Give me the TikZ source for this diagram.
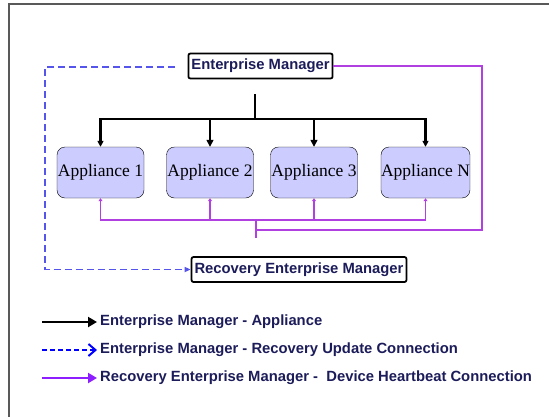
\documentclass[tikz,border=0pt]{standalone}
\usepackage{fontspec}
\setmainfont{Liberation Serif}
\newfontfamily\arialfont{Liberation Sans}
\usetikzlibrary{arrows.meta,positioning}
\definecolor{appfill}{RGB}{204,204,255}
\definecolor{hbline}{RGB}{176,64,224}
\definecolor{recline}{RGB}{85,85,235}
\definecolor{legpurple}{RGB}{140,30,255}
\definecolor{navytext}{RGB}{28,28,90}

\begin{document}
\begin{tikzpicture}[x=1pt, y=-1pt,
    mgr/.style={draw, line width=1.8pt, rounded corners=2pt, fill=white, inner xsep=3pt, minimum height=25pt, font=\arialfont\bfseries\fontsize{14.8}{16}\selectfont, text=navytext},
    appl/.style={draw, rounded corners=8pt, fill=appfill, minimum width=87pt, minimum height=51pt, inner sep=0pt, font=\fontsize{17.5}{19}\selectfont},
    tree/.style={-{Triangle[length=7pt, width=7pt]}, line width=1.4pt},
    treebig/.style={tree, line width=2.4pt, -{Triangle[length=6pt, width=6pt]}},
    hb/.style={hbline, line width=1.6pt},
    rec/.style={recline, line width=1.6pt, dash pattern=on 7pt off 4pt},
    legtext/.style={anchor=west, inner sep=3pt, text=navytext, font=\arialfont\bfseries\fontsize{14.8}{16}\selectfont}
]
\useasboundingbox (0,0) rectangle (549,416);
% frame
\draw[gray!70!black, line width=1.3pt] (9,420) -- (9,4) -- (560,4);

% managers
\node[mgr] (em) at (260.5,66) {Enterprise Manager};
\node[mgr] (rem) at (299,269.5) {Recovery Enterprise Manager};

% appliances
\node[appl] (app1) at (100.5,172.5) {Appliance 1};
\node[appl] (app2) at (210,172.5) {Appliance 2};
\node[appl] (app3) at (314,172.5) {Appliance 3};
\node[appl] (appn) at (425.5,172.5) {Appliance N};

% enterprise manager - appliance
\coordinate (emstem) at (255,94);
\coordinate (split) at (255,119);
\draw[line width=2.2pt] (emstem) -- (split);
\draw[treebig] (split) -| (app1.north);
\draw[treebig] (split) -| (appn.north);
\draw[tree] (split) -| (app2.north);
\draw[tree] (split) -| (app3.north);

% heartbeat
\coordinate (hbtail) at (256,238);
\coordinate (hbbus) at (256,220);
\coordinate (hbcorner) at (482,230);
\draw[hb] (em.east) -| (hbcorner) -- (hbcorner -| hbtail);
\draw[hb] (hbtail) -- (hbbus);
\foreach \a in {app1,app2,app3,appn}
  \draw[hb, -{Triangle[length=3pt, width=4pt]}] (hbbus) -| (\a.south);

% recovery update
\coordinate (recstart) at (175,67);
\coordinate (recleft) at (45,67);
\draw[rec, -{Triangle[length=6pt, width=5pt]}] (recstart) -- (recleft) |- (rem.west);

% legend
\node[legtext] (leg1) at (97,322) {Enterprise Manager - Appliance};
\node[legtext] (leg2) at (97,350) {Enterprise Manager - Recovery Update Connection};
\node[legtext] (leg3) at (97,378) {Recovery Enterprise Manager -\ \ Device Heartbeat Connection};
\coordinate (l1) at (42,322);
\coordinate (l2) at (42,350);
\coordinate (l3) at (42,378);
\draw[line width=2pt, -{Triangle[length=9pt, width=10pt]}] (l1) -- (leg1.west);
\draw[blue, line width=2pt, dash pattern=on 5pt off 3pt, -{Straight Barb[length=7pt, width=12pt, line width=2pt]}] (l2) -- (leg2.west);
\draw[legpurple, line width=2pt, -{Triangle[length=9pt, width=10pt]}] (l3) -- (leg3.west);
\end{tikzpicture}
\end{document}
